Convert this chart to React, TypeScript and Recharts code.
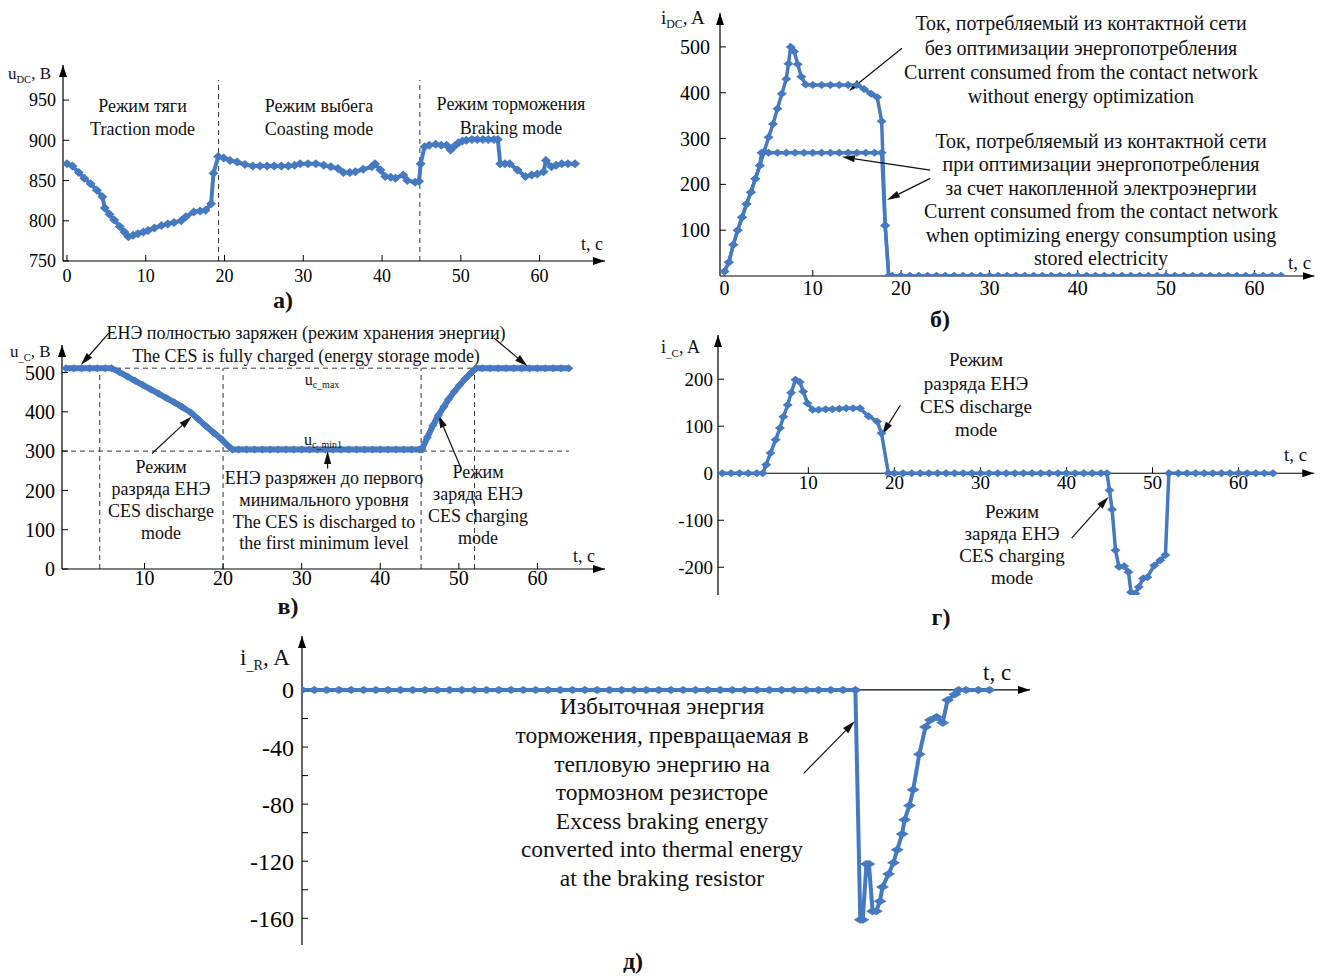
import React from "react";
import { LineChart, Line, XAxis, YAxis, ReferenceLine, ReferenceDot } from "recharts";

// а) напряжение контактной сети u_DC, В
const tA = [0, 0.7, 1.5, 2.2, 3, 3.8, 4.5, 4.8, 5.4, 6, 6.7, 7.3, 7.8, 8.4, 9, 9.7, 10.3, 11.1, 12, 12.8, 13.6, 14.5, 15.1, 16.1, 16.9, 17.6, 18.3, 18.6, 19.2, 19.9, 20.7, 21.6, 22.6, 23.6, 24.5, 25.4, 26.3, 27.2, 28.1, 28.9, 29.6, 30.6, 31.6, 32.6, 33.5, 34.4, 35.1, 35.9, 36.6, 37.6, 38.7, 39.1, 39.8, 40.4, 41.1, 41.7, 42.7, 43.2, 44.2, 44.7, 44.9, 45.4, 46, 46.8, 47.5, 48.2, 48.7, 49.2, 49.7, 50.2, 50.7, 51.4, 52.1, 52.8, 53.5, 54.2, 54.7, 55, 55.6, 56.2, 57.2, 58.2, 59, 59.7, 60.5, 60.8, 61.5, 62.1, 62.8, 63.6, 64.5];
const uDC = [871, 868, 860, 853, 846, 838, 830, 816, 808, 801, 793, 786, 780, 782, 784, 786, 788, 791, 794, 796, 798, 800, 805, 811, 812, 813, 821, 859, 880, 878, 875, 873, 870, 868, 868, 868, 868, 868, 868, 869, 871, 871, 871, 869, 867, 865, 860, 860, 861, 864, 867, 871, 863, 855, 854, 853, 857, 850, 848, 849, 871, 892, 894, 895, 894, 894, 888, 893, 897, 899, 900, 901, 901, 901, 901, 901, 901, 871, 871, 871, 863, 855, 857, 858, 861, 875, 867, 869, 871, 871, 871];

// б) ток из контактной сети i_DC, А
const tB1 = [0, 0.5, 1, 1.5, 2, 2.5, 3, 3.5, 4, 4.5, 5, 5.5, 6, 6.5, 7, 7.25, 7.5, 7.9, 8.3, 8.7, 9.2, 10, 11, 12, 13, 14, 15, 15.8, 16.6, 17.3, 17.8, 18.2, 18.6];
const iB1 = [10, 30, 68, 100, 128, 157, 183, 212, 241, 271, 303, 332, 365, 398, 430, 463, 500, 490, 462, 435, 418, 417, 417, 417, 417, 417, 417, 408, 398, 390, 338, 110, 0];
const tB2 = [0, 0.5, 1, 1.5, 2, 2.5, 3, 3.5, 4, 4.2, 5, 6, 7, 8, 9, 10, 11, 12, 13, 14, 15, 16, 17, 17.8, 18.2, 18.6];
const iB2 = [10, 30, 68, 100, 128, 157, 183, 212, 241, 269, 269, 269, 269, 269, 269, 269, 269, 269, 269, 269, 269, 269, 269, 269, 110, 0];
const tBTail = [19, 20, 21, 22, 23, 24, 25, 26, 27, 28, 29, 30, 31, 32, 33, 34, 35, 36, 37, 38, 39, 40, 41, 42, 43, 44, 45, 46, 47, 48, 49, 50, 51, 52, 53, 54, 55, 56, 57, 58, 59, 60, 61, 62, 63];
const iBTail = [0, 0, 0, 0, 0, 0, 0, 0, 0, 0, 0, 0, 0, 0, 0, 0, 0, 0, 0, 0, 0, 0, 0, 0, 0, 0, 0, 0, 0, 0, 0, 0, 0, 0, 0, 0, 0, 0, 0, 0, 0, 0, 0, 0, 0];

// в) напряжение ЕНЭ u_C, В
const tC = [0, 1, 2, 3, 4, 5, 5.8, 6.8, 7.8, 8.8, 9.8, 10.8, 11.8, 12.8, 13.8, 14.8, 15.9, 16.8, 17.8, 18.8, 19.8, 20.6, 21.2, 22, 23, 24, 25, 26, 27, 28, 29, 30, 31, 32, 33, 34, 35, 36, 37, 38, 39, 40, 41, 42, 43, 44, 45, 45.3, 46, 46.7, 47.4, 48.1, 48.7, 49.4, 50.1, 50.8, 51.5, 52.2, 53, 54, 55, 56, 57, 58, 59, 60, 61, 62, 63, 64];
const uC = [511, 511, 511, 511, 511, 511, 511, 501, 490, 479, 468, 457, 446, 435, 424, 412, 398, 382, 364, 347, 330, 314, 304, 304, 304, 304, 304, 304, 304, 304, 304, 304, 304, 304, 304, 304, 304, 304, 304, 304, 304, 304, 304, 304, 304, 304, 304, 304, 335, 365, 391, 413, 432, 451, 468, 484, 498, 511, 511, 511, 511, 511, 511, 511, 511, 511, 511, 511, 511, 511];

// г) ток ЕНЭ i_C, А
const tD = [0, 1, 2, 3, 4, 4.7, 5.1, 5.6, 6.2, 6.7, 7.1, 7.6, 8, 8.5, 9, 9.4, 9.9, 10.5, 11.2, 12, 12.8, 13.6, 14.4, 15.2, 16, 17, 18, 18.5, 19.3, 20, 21, 22, 23, 24, 25, 26, 27, 28, 29, 30, 31, 32, 33, 34, 35, 36, 37, 38, 39, 40, 41, 42, 43, 44, 44.7, 45, 45.3, 45.7, 46.1, 46.7, 47.2, 47.5, 48, 48.4, 48.9, 49.4, 50.2, 50.9, 51.5, 51.9, 53, 54, 55, 56, 57, 58, 59, 60, 61, 62, 63, 64];
const iC = [0, 0, 0, 0, 0, 0, 18, 43, 71, 96, 120, 145, 171, 199, 194, 174, 149, 135, 135, 136, 136, 137, 138, 138, 138, 121, 110, 85, 0, 0, 0, 0, 0, 0, 0, 0, 0, 0, 0, 0, 0, 0, 0, 0, 0, 0, 0, 0, 0, 0, 0, 0, 0, 0, 0, -36, -77, -164, -199, -198, -210, -253, -256, -242, -224, -221, -196, -185, -174, 0, 0, 0, 0, 0, 0, 0, 0, 0, 0, 0, 0, 0];

// д) ток тормозного резистора i_R, А
const tE = [0, 1, 2, 3, 4, 5, 6, 7, 8, 9, 10, 11, 12, 13, 14, 15, 16, 17, 18, 19, 20, 21, 22, 23, 24, 25, 26, 27, 28, 29, 30, 31, 32, 33, 34, 35, 36, 37, 38, 39, 40, 41, 42, 43, 44, 45, 45.4, 45.6, 45.9, 46.1, 46.4, 46.7, 47, 47.2, 47.7, 48.1, 48.4, 48.8, 49, 49.4, 49.7, 50.2, 50.7, 51.1, 51.6, 52.1, 52.5, 53.1, 53.4, 54, 55, 55.9];
const iR = [0, 0, 0, 0, 0, 0, 0, 0, 0, 0, 0, 0, 0, 0, 0, 0, 0, 0, 0, 0, 0, 0, 0, 0, 0, 0, 0, 0, 0, 0, 0, 0, 0, 0, 0, 0, 0, 0, 0, 0, 0, 0, 0, 0, 0, 0, -161, -161, -122, -122, -155, -155, -148, -138, -129, -121, -112, -101, -91, -81, -70, -45, -26, -21, -19, -23, -7, -3, 0, 0, 0, 0];

const ticksAX = [0, 10, 20, 30, 40, 50, 60];
const ticksAY = [750, 800, 850, 900, 950];
const ticksBX = [0, 10, 20, 30, 40, 50, 60];
const ticksBY = [100, 200, 300, 400, 500];
const ticksCX = [10, 20, 30, 40, 50, 60];
const ticksCY = [0, 100, 200, 300, 400, 500];
const ticksDX = [10, 20, 30, 40, 50, 60];
const ticksDY = [-200, -100, 0, 100, 200];
const ticksEY = [0, -20, -40, -60, -80, -100, -120, -140, -160];
const labelsEY = [0, -40, -80, -120, -160];

const BLUE = "#4579c0";
const FONT = "'Liberation Serif', 'Times New Roman', serif";

const rows = (t: number[], v: number[]) => t.map((x, i) => ({ t: x, v: v[i] }));

// ромбовидный маркер, чуть вытянутый по горизонтали
const diamond = (w: number, h: number) => (p: any) => {
  const { cx, cy, index } = p;
  if (cx == null || cy == null) return <g key={index} />;
  return (
    <path
      key={index}
      d={`M${cx},${cy - h}L${cx + w},${cy}L${cx},${cy + h}L${cx - w},${cy}Z`}
      fill={BLUE}
    />
  );
};

const arrowShape = (p: any) => {
  const { x1, y1, x2, y2 } = p;
  const dx = x2 - x1;
  const dy = y2 - y1;
  const len = Math.hypot(dx, dy) || 1;
  const ux = dx / len;
  const uy = dy / len;
  const L = 13;
  const W = 3.6;
  const bx = x2 - ux * L;
  const by = y2 - uy * L;
  return (
    <g>
      <line x1={x1} y1={y1} x2={bx} y2={by} stroke="#111" strokeWidth={1.2} />
      <polygon
        points={`${x2},${y2} ${bx - uy * W},${by + ux * W} ${bx + uy * W},${by - ux * W}`}
        fill="#111"
      />
    </g>
  );
};

const zeroAxisShape = (p: any) => (
  <line
    x1={Math.min(p.x1, p.x2)}
    y1={p.y1}
    x2={Math.max(p.x1, p.x2)}
    y2={p.y2}
    stroke="#000"
    strokeWidth={1.2}
    markerEnd="url(#axArrow)"
  />
);

interface Box {
  l: number;
  r: number;
  t: number;
  b: number;
}

interface PanelProps {
  box: Box;
  xDomain: [number, number];
  yDomain: [number, number];
  xTicks?: number[];
  yTicks: number[];
  fontSize: number;
  xGap?: number;
  yGap: number;
  hideX?: boolean;
  yFormat?: (v: number) => string;
  children?: React.ReactNode;
}

function Panel({ box, xDomain, yDomain, xTicks, yTicks, fontSize, xGap = 4, yGap, hideX, yFormat, children }: PanelProps) {
  const YW = 80;
  const MT = 12;
  const MR = 12;
  const XH = 40;
  const bottom = hideX ? 0 : XH;
  const tickStyle = { fontSize, fill: "#000", fontFamily: FONT };
  return (
    <div style={{ position: "absolute", left: box.l - YW, top: box.t - MT }}>
      <LineChart
        width={box.r - box.l + YW + MR}
        height={box.b - box.t + MT + bottom}
        margin={{ top: MT, right: MR, left: 0, bottom: 0 }}
      >
        <XAxis
          type="number"
          dataKey="t"
          domain={xDomain}
          ticks={xTicks}
          interval={0}
          allowDataOverflow
          hide={hideX}
          height={XH}
          axisLine={{ stroke: "#000", strokeWidth: 1.2, markerEnd: "url(#axArrow)" } as any}
          tickLine={{ stroke: "#000" }}
          tickSize={-6}
          tickMargin={6 + xGap}
          tick={tickStyle}
        />
        <YAxis
          type="number"
          domain={yDomain}
          ticks={yTicks}
          interval={0}
          allowDataOverflow
          width={YW}
          axisLine={{ stroke: "#000", strokeWidth: 1.2, markerStart: "url(#axArrow)" } as any}
          tickLine={{ stroke: "#000" }}
          tickSize={-6}
          tickMargin={6 + yGap}
          tick={tickStyle}
          tickFormatter={yFormat}
        />
        {children}
      </LineChart>
    </div>
  );
}

function Note({ x, y, size, lh, lines }: { x: number; y: number; size: number; lh: number; lines: React.ReactNode[] }) {
  return (
    <div
      style={{
        position: "absolute",
        left: x - 300,
        top: y - lh / 2,
        width: 600,
        textAlign: "center",
        fontSize: size,
        lineHeight: `${lh}px`,
        fontFamily: FONT,
        color: "#111",
        whiteSpace: "nowrap",
      }}
    >
      {lines.map((s, i) => (
        <div key={i}>{s}</div>
      ))}
    </div>
  );
}

function AxisName({ left, cy, size, base, sub, rest }: { left: number; cy: number; size: number; base: string; sub: string; rest: string }) {
  return (
    <div
      style={{
        position: "absolute",
        left,
        top: cy - size * 0.6,
        fontFamily: FONT,
        fontSize: size,
        lineHeight: `${size * 1.2}px`,
        whiteSpace: "nowrap",
        color: "#111",
      }}
    >
      {base}
      <span style={{ fontSize: size * 0.62, position: "relative", top: size * 0.22 }}>{sub}</span>
      {rest}
    </div>
  );
}

function Plain({ left, cy, size, text }: { left: number; cy: number; size: number; text: string }) {
  return (
    <div
      style={{
        position: "absolute",
        left,
        top: cy - size * 0.6,
        fontFamily: FONT,
        fontSize: size,
        lineHeight: `${size * 1.2}px`,
        whiteSpace: "nowrap",
        color: "#111",
      }}
    >
      {text}
    </div>
  );
}

function Letter({ cx, cy, text }: { cx: number; cy: number; text: string }) {
  return (
    <div
      style={{
        position: "absolute",
        left: cx - 30,
        width: 60,
        top: cy - 13,
        textAlign: "center",
        fontFamily: FONT,
        fontSize: 24,
        lineHeight: "26px",
        fontWeight: "bold",
        color: "#111",
      }}
    >
      {text}
    </div>
  );
}

const dash = { stroke: "#333", strokeWidth: 1, strokeDasharray: "5 4" };

export default function App() {
  const dataA = rows(tA, uDC);
  const dataB1 = rows([...tB1, ...tBTail], [...iB1, ...iBTail]);
  const dataB2 = rows([...tB2, ...tBTail], [...iB2, ...iBTail]);
  const dataC = rows(tC, uC);
  const dataD = rows(tD, iC);
  const dataE = rows(tE, iR);

  return (
    <div style={{ position: "relative", width: 1335, height: 977, background: "#fff", overflow: "hidden" }}>
      <style>{"body{margin:0} .recharts-surface{overflow:visible}"}</style>
      <svg width={0} height={0} style={{ position: "absolute" }}>
        <defs>
          <marker
            id="axArrow"
            viewBox="0 0 12 8"
            refX={12}
            refY={4}
            markerWidth={12}
            markerHeight={8}
            markerUnits="userSpaceOnUse"
            orient="auto-start-reverse"
          >
            <path d="M0,0 L12,4 L0,8 Z" fill="#000" />
          </marker>
        </defs>
      </svg>

      {/* а) */}
      <Panel box={{ l: 63, r: 605, t: 65, b: 261 }} xDomain={[-0.5, 68.3]} yDomain={[750, 993.6]} xTicks={ticksAX} yTicks={ticksAY} fontSize={18} xGap={8} yGap={7}>
        <ReferenceLine segment={[{ x: 19.25, y: 750 }, { x: 19.25, y: 975 }]} {...dash} ifOverflow="visible" />
        <ReferenceLine segment={[{ x: 44.8, y: 750 }, { x: 44.8, y: 975 }]} {...dash} ifOverflow="visible" />
        <Line data={dataA} dataKey="v" type="linear" stroke={BLUE} strokeWidth={4} dot={diamond(5, 4.5)} isAnimationActive={false} />
      </Panel>

      {/* б) */}
      <Panel box={{ l: 719.5, r: 1314, t: 13, b: 276 }} xDomain={[-0.5, 66.8]} yDomain={[0, 574]} xTicks={ticksBX} yTicks={ticksBY} fontSize={20} xGap={5} yGap={10}>
        <Line data={dataB1} dataKey="v" type="linear" stroke={BLUE} strokeWidth={3.5} dot={diamond(5, 4)} isAnimationActive={false} />
        <Line data={dataB2} dataKey="v" type="linear" stroke={BLUE} strokeWidth={3.5} dot={diamond(5, 4)} isAnimationActive={false} />
        <ReferenceLine segment={[{ x: 20.1, y: 497 }, { x: 14.1, y: 404 }]} shape={arrowShape} ifOverflow="visible" />
        <ReferenceLine segment={[{ x: 23.3, y: 231 }, { x: 13.3, y: 260 }]} shape={arrowShape} ifOverflow="visible" />
        <ReferenceLine segment={[{ x: 23.3, y: 213 }, { x: 18.4, y: 166 }]} shape={arrowShape} ifOverflow="visible" />
      </Panel>

      {/* в) */}
      <Panel box={{ l: 62, r: 605, t: 345, b: 569 }} xDomain={[-0.5, 68.6]} yDomain={[0, 570]} xTicks={ticksCX} yTicks={ticksCY} fontSize={20} xGap={2} yGap={7}>
        <ReferenceLine segment={[{ x: -0.5, y: 511 }, { x: 64, y: 511 }]} {...dash} ifOverflow="visible" />
        <ReferenceLine segment={[{ x: -0.5, y: 300 }, { x: 64, y: 300 }]} {...dash} ifOverflow="visible" />
        <ReferenceLine segment={[{ x: 4.3, y: 0 }, { x: 4.3, y: 511 }]} {...dash} ifOverflow="visible" />
        <ReferenceLine segment={[{ x: 20, y: 0 }, { x: 20, y: 511 }]} {...dash} ifOverflow="visible" />
        <ReferenceLine segment={[{ x: 45.2, y: 0 }, { x: 45.2, y: 511 }]} {...dash} ifOverflow="visible" />
        <ReferenceLine segment={[{ x: 52, y: 0 }, { x: 52, y: 511 }]} {...dash} ifOverflow="visible" />
        <Line data={dataC} dataKey="v" type="linear" stroke={BLUE} strokeWidth={6} dot={diamond(4.5, 4)} isAnimationActive={false} />
        <ReferenceLine segment={[{ x: 5.45, y: 600 }, { x: 1.9, y: 519 }]} shape={arrowShape} ifOverflow="visible" />
        <ReferenceLine segment={[{ x: 54.5, y: 587 }, { x: 58.75, y: 516 }]} shape={arrowShape} ifOverflow="visible" />
        <ReferenceLine segment={[{ x: 10.95, y: 294 }, { x: 16, y: 388 }]} shape={arrowShape} ifOverflow="visible" />
        <ReferenceLine segment={[{ x: 33.3, y: 256 }, { x: 33.3, y: 300 }]} shape={arrowShape} ifOverflow="visible" />
        <ReferenceLine segment={[{ x: 50.2, y: 260 }, { x: 47.4, y: 392 }]} shape={arrowShape} ifOverflow="visible" />
      </Panel>

      {/* г) */}
      <Panel box={{ l: 717.7, r: 1314, t: 335, b: 595 }} xDomain={[-0.5, 68.8]} yDomain={[-259, 294]} yTicks={ticksDY} fontSize={19} yGap={5} hideX>
        <ReferenceLine y={0} shape={zeroAxisShape} />
        {ticksDX.map((t) => (
          <ReferenceDot
            key={t}
            x={t}
            y={0}
            r={0}
            ifOverflow="visible"
            shape={(p: any) => (
              <g>
                <line x1={p.cx} y1={p.cy} x2={p.cx} y2={p.cy - 6} stroke="#000" />
                <text x={p.cx} y={p.cy + 16} textAnchor="middle" fontSize={19} fontFamily={FONT} fill="#000">
                  {t}
                </text>
              </g>
            )}
          />
        ))}
        <Line data={dataD} dataKey="v" type="linear" stroke={BLUE} strokeWidth={3.5} dot={diamond(5, 4)} isAnimationActive={false} />
        <ReferenceLine segment={[{ x: 20.7, y: 145 }, { x: 18.56, y: 82 }]} shape={arrowShape} ifOverflow="visible" />
        <ReferenceLine segment={[{ x: 40.6, y: -138 }, { x: 44.9, y: -50 }]} shape={arrowShape} ifOverflow="visible" />
      </Panel>

      {/* д) */}
      <Panel box={{ l: 302, r: 1030, t: 636, b: 945 }} xDomain={[0, 59.2]} yDomain={[-178.7, 37.8]} yTicks={ticksEY} fontSize={24} yGap={8} hideX yFormat={(v) => (labelsEY.includes(v) ? String(v) : "")}>
        <ReferenceLine y={0} shape={zeroAxisShape} />
        <Line data={dataE} dataKey="v" type="linear" stroke={BLUE} strokeWidth={4} dot={diamond(6.5, 4)} isAnimationActive={false} />
        <ReferenceLine segment={[{ x: 40.8, y: -58.4 }, { x: 44.95, y: -22 }]} shape={arrowShape} ifOverflow="visible" />
      </Panel>

      {/* подписи а) */}
      <AxisName left={8} cy={74} size={17} base="u" sub="DC" rest=", B" />
      <Plain left={581} cy={245} size={18} text="t, c" />
      <Note x={142.5} y={106.7} size={18} lh={23.3} lines={["Режим тяги", "Traction mode"]} />
      <Note x={319} y={106.7} size={18} lh={23.3} lines={["Режим выбега", "Coasting mode"]} />
      <Note x={511} y={105} size={18} lh={23.3} lines={["Режим торможения", "Braking mode"]} />
      <Letter cx={283} cy={300} text="а)" />

      {/* подписи б) */}
      <AxisName left={661} cy={18.3} size={19} base="i" sub="DC" rest=", A" />
      <Plain left={1288} cy={263} size={19} text="t, c" />
      <Note
        x={1081}
        y={23.3}
        size={20}
        lh={24.4}
        lines={["Ток, потребляемый из контактной сети", "без оптимизации энергопотребления", "Current consumed from the contact network", "without energy optimization"]}
      />
      <Note
        x={1101}
        y={141.7}
        size={20}
        lh={23.5}
        lines={[
          "Ток, потребляемый из контактной сети",
          "при оптимизации энергопотребления",
          "за счет накопленной электроэнергии",
          "Current consumed from the contact network",
          "when optimizing energy consumption using",
          "stored electricity",
        ]}
      />
      <Letter cx={940} cy={319} text="б)" />

      {/* подписи в) */}
      <AxisName left={10} cy={352} size={17} base="u" sub="_C" rest=", B" />
      <Plain left={573} cy={556.7} size={18} text="t, c" />
      <Note x={306} y={333.3} size={18} lh={22.4} lines={["ЕНЭ полностью заряжен (режим хранения энергии)", "The CES is fully charged (energy storage mode)"]} />
      <Note x={322} y={380} size={16} lh={20} lines={[<span key="m">u<span style={{ fontSize: 10, position: "relative", top: 3 }}>c_max</span></span>]} />
      <Note x={323} y={440} size={16} lh={20} lines={[<span key="n">u<span style={{ fontSize: 10, position: "relative", top: 3 }}>c_min1</span></span>]} />
      <Note x={161} y={468.3} size={18} lh={21.7} lines={["Режим", "разряда ЕНЭ", "CES discharge", "mode"]} />
      <Note x={324} y={479} size={18} lh={21.8} lines={["ЕНЭ разряжен до первого", "минимального уровня", "The CES is discharged to", "the first minimum level"]} />
      <Note x={478} y={473.3} size={18} lh={21.9} lines={["Режим", "заряда ЕНЭ", "CES charging", "mode"]} />
      <Letter cx={288} cy={606} text="в)" />

      {/* подписи г) */}
      <AxisName left={661} cy={348} size={18} base="i" sub="_C" rest=", A" />
      <Plain left={1284} cy={455} size={19} text="t, c" />
      <Note x={976} y={360} size={19} lh={23.3} lines={["Режим", "разряда ЕНЭ", "CES discharge", "mode"]} />
      <Note x={1012} y={511.7} size={19} lh={22.2} lines={["Режим", "заряда ЕНЭ", "CES charging", "mode"]} />
      <Letter cx={941} cy={617} text="г)" />

      {/* подписи д) */}
      <AxisName left={240} cy={658} size={23} base="i" sub="_R" rest=", A" />
      <Plain left={983} cy={673} size={23} text="t, c" />
      <Note
        x={662}
        y={706.7}
        size={23.5}
        lh={28.6}
        lines={[
          "Избыточная энергия",
          "торможения, превращаемая в",
          "тепловую энергию на",
          "тормозном резисторе",
          "Excess braking energy",
          "converted into thermal energy",
          "at the braking resistor",
        ]}
      />
      <Letter cx={633} cy={961} text="д)" />
    </div>
  );
}
